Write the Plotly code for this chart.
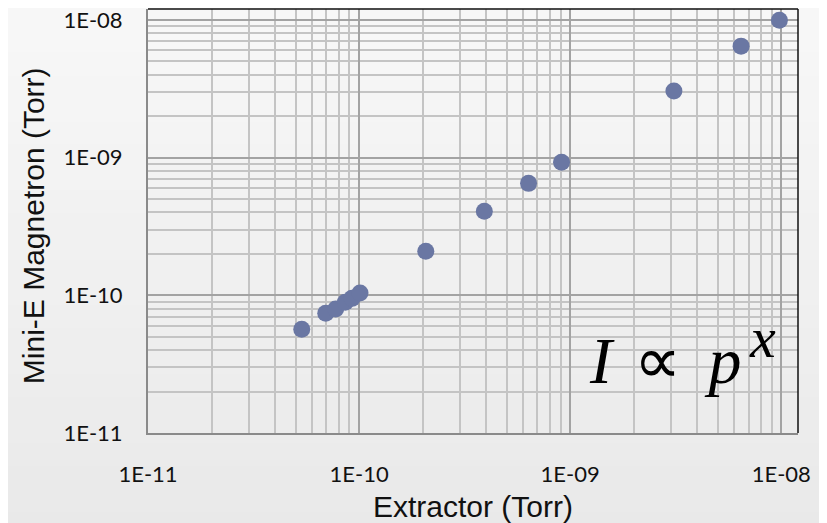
import plotly.graph_objects as go

# Data (Torr)
extractor = [5.35e-11, 6.95e-11, 7.75e-11, 8.6e-11, 9.25e-11, 1.01e-10,
             2.07e-10, 3.92e-10, 6.35e-10, 9.1e-10, 3.1e-9, 6.45e-9, 9.8e-9]
magnetron = [5.67e-11, 7.4e-11, 7.95e-11, 8.9e-11, 9.5e-11, 1.04e-10,
             2.09e-10, 4.08e-10, 6.5e-10, 9.25e-10, 3.04e-9, 6.45e-9, 9.95e-9]

major_vals = [1e-11, 1e-10, 1e-9, 1e-8]
major_text = ["1E-11", "1E-10", "1E-09", "1E-08"]
minor_vals = [d * m for d in [1e-11, 1e-10, 1e-9] for m in range(2, 10)]

x_title = "Extractor (Torr)"
y_title = "Mini-E Magnetron (Torr)"

fig = go.Figure()
fig.add_trace(go.Scatter(
    x=extractor, y=magnetron, mode="markers",
    marker=dict(size=17, color="#6a77a3", line=dict(width=0)),
    showlegend=False, hoverinfo="skip"))

# fake vertical background gradient
n = 24
for i in range(n):
    c = int(round(248 - (248 - 233) * i / (n - 1)))
    fig.add_shape(type="rect", xref="paper", yref="paper",
                  x0=-0.3, x1=1.1, y0=1.05 - (i + 1) * 1.3 / n, y1=1.05 - i * 1.3 / n + 0.01,
                  fillcolor=f"rgb({c},{c},{c})", line=dict(width=0), layer="below")

tick_font = dict(family="Lato, 'Open Sans', sans-serif", size=22, color="#111111")
axis_common = dict(
    type="log", tickmode="array", tickvals=major_vals, ticktext=major_text,
    showgrid=True, gridcolor="#a3a3a3", gridwidth=1.6,
    minor=dict(tickmode="array", tickvals=minor_vals, showgrid=True,
               gridcolor="#c4c4c4", gridwidth=1.5, ticks=""),
    ticks="", showline=True, linecolor="#8a8a8a", linewidth=2,
    zeroline=False, tickfont=tick_font, automargin=False,
    ticklabeloverflow="allow",
)

title_font = dict(family="Liberation Sans, Arial", size=30, color="#111111")
fig.update_xaxes(**axis_common, range=[-11, -7.9208], ticklabelstandoff=21,
                 title=dict(text=x_title, font=title_font, standoff=10))
fig.update_yaxes(**axis_common, range=[-11, -7.9208], ticklabelstandoff=19)

# y axis title as rotated annotation
fig.add_annotation(xref="paper", yref="paper", x=-0.177, y=0.49, xanchor="center", yanchor="middle",
                   text=y_title, textangle=-90, showarrow=False, font=title_font)

# top and right black border
fig.add_shape(type="line", xref="paper", yref="paper", x0=0, x1=1, y0=1, y1=1,
              line=dict(color="#111111", width=1.5))
fig.add_shape(type="line", xref="paper", yref="paper", x0=1, x1=1, y0=0, y1=1,
              line=dict(color="#111111", width=1.5))

# equation
fig.add_annotation(xref="paper", yref="paper", x=0.675, y=0.170, xanchor="left", yanchor="middle",
                   text="<i>I</i>\u200a ∝\u200a\u200a <i>p</i>", showarrow=False,
                   font=dict(family="Liberation Serif, 'Times New Roman', serif", size=66, color="#000000"))
fig.add_annotation(xref="paper", yref="paper", x=0.945, y=0.225, xanchor="center", yanchor="middle",
                   text="<i>x</i>", showarrow=False,
                   font=dict(family="Liberation Serif, 'Times New Roman', serif", size=58, color="#000000"))

fig.update_layout(
    width=819, height=515,
    margin=dict(l=140, r=29, t=1, b=90),
    paper_bgcolor="#f0f0f0", plot_bgcolor="rgba(0,0,0,0)",
)

fig.write_html("out.html")
